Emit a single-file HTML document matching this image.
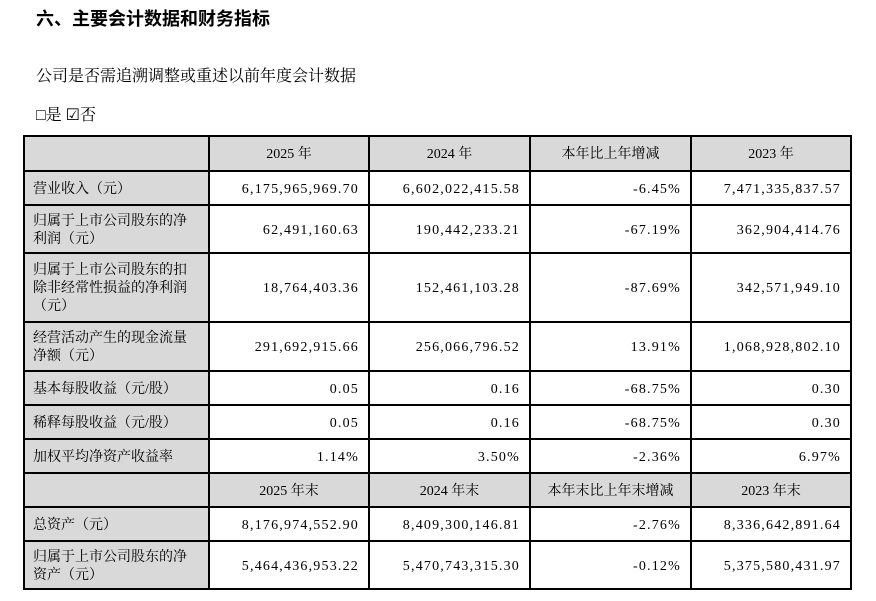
<!DOCTYPE html>
<html><head><meta charset="utf-8"><style>
body{margin:0;width:876px;height:601px;background:#fff;font-family:"Liberation Serif","Noto Serif CJK SC",serif;color:#000;position:relative;overflow:hidden}
.t{position:absolute;white-space:nowrap}
table{position:absolute;left:23px;top:135px;border-collapse:collapse;table-layout:fixed;font-size:14px}
td{border:2px solid #000;padding:3px 8px 0 8px;line-height:18px}
td.l{background:#d9d9d9;text-align:left}
td.h{background:#d9d9d9;text-align:center}
td.n{text-align:right;letter-spacing:1.2px;padding-right:9px}
</style></head><body>
<div class="t" style="left:36px;top:5px;font-size:18px;font-weight:bold;font-family:'Liberation Sans','Noto Sans CJK SC',sans-serif">六、主要会计数据和财务指标</div>
<div class="t" style="left:36px;top:63px;font-size:16px">公司是否需追溯调整或重述以前年度会计数据</div>
<div class="t" style="left:36px;top:102px;font-size:16px">□是 ☑否</div>
<table>
<colgroup><col style="width:185px"><col style="width:160px"><col style="width:161px"><col style="width:161px"><col style="width:160px"></colgroup>
<tr style="height:35px"><td class="h"></td><td class="h">2025 年</td><td class="h">2024 年</td><td class="h">本年比上年增减</td><td class="h">2023 年</td></tr>
<tr style="height:34px"><td class="l">营业收入（元）</td><td class="n">6,175,965,969.70</td><td class="n">6,602,022,415.58</td><td class="n">-6.45%</td><td class="n">7,471,335,837.57</td></tr>
<tr style="height:48px"><td class="l">归属于上市公司股东的净利润（元）</td><td class="n">62,491,160.63</td><td class="n">190,442,233.21</td><td class="n">-67.19%</td><td class="n">362,904,414.76</td></tr>
<tr style="height:69px"><td class="l">归属于上市公司股东的扣除非经常性损益的净利润（元）</td><td class="n">18,764,403.36</td><td class="n">152,461,103.28</td><td class="n">-87.69%</td><td class="n">342,571,949.10</td></tr>
<tr style="height:49px"><td class="l">经营活动产生的现金流量净额（元）</td><td class="n">291,692,915.66</td><td class="n">256,066,796.52</td><td class="n">13.91%</td><td class="n">1,068,928,802.10</td></tr>
<tr style="height:34px"><td class="l">基本每股收益（元/股）</td><td class="n">0.05</td><td class="n">0.16</td><td class="n">-68.75%</td><td class="n">0.30</td></tr>
<tr style="height:34px"><td class="l">稀释每股收益（元/股）</td><td class="n">0.05</td><td class="n">0.16</td><td class="n">-68.75%</td><td class="n">0.30</td></tr>
<tr style="height:34px"><td class="l">加权平均净资产收益率</td><td class="n">1.14%</td><td class="n">3.50%</td><td class="n">-2.36%</td><td class="n">6.97%</td></tr>
<tr style="height:34px"><td class="h"></td><td class="h">2025 年末</td><td class="h">2024 年末</td><td class="h">本年末比上年末增减</td><td class="h">2023 年末</td></tr>
<tr style="height:34px"><td class="l">总资产（元）</td><td class="n">8,176,974,552.90</td><td class="n">8,409,300,146.81</td><td class="n">-2.76%</td><td class="n">8,336,642,891.64</td></tr>
<tr style="height:48px"><td class="l">归属于上市公司股东的净资产（元）</td><td class="n">5,464,436,953.22</td><td class="n">5,470,743,315.30</td><td class="n">-0.12%</td><td class="n">5,375,580,431.97</td></tr>
</table>
</body></html>
